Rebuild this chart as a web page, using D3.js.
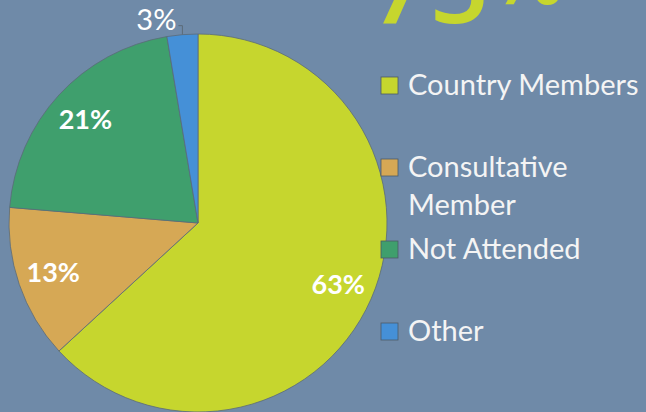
<!DOCTYPE html>
<html>
<head>
<meta charset="utf-8">
<script src="https://cdn.jsdelivr.net/npm/d3@7"></script>
<style>
  html, body { margin: 0; padding: 0; background: #6f8aa8; }
  svg { display: block; font-family: Lato, "Open Sans", sans-serif; }
</style>
</head>
<body>
<div id="chart"></div>
<script>
// attendance counts (labels round to 63/13/21/3)
const categories = [`Country Members`, `Consultative Member`, `Not Attended`, `Other`];
const counts = [24, 5, 8, 1];
const pctLabels = [`63%`, `13%`, `21%`, `3%`];
const headline = `75%`;

const width = 646;
const height = 412;
const cx = 198;
const cy = 223;
const radius = 189;

const color = d3.scaleOrdinal()
  .domain(categories)
  .range([`#c6d62e`, `#d6a855`, `#3f9f6d`, `#4590d7`]);

const svg = d3.select(`#chart`).append(`svg`)
  .attr(`width`, width)
  .attr(`height`, height);

// big headline figure, cut off by the top edge like in the slide; % sits raised
const head = svg.append(`text`)
  .attr(`x`, 370)
  .attr(`y`, 23)
  .attr(`fill`, `#c6d62e`)
  .attr(`font-family`, `"Open Sans", sans-serif`)
  .attr(`font-weight`, 600);

head.append(`tspan`)
  .attr(`font-size`, 104)
  .text(headline.slice(0, -1));

head.append(`tspan`)
  .attr(`font-size`, 88)
  .attr(`dy`, -19)
  .text(headline.slice(-1));

const pie = d3.pie().sort(null).value((d) => d.value);
const arcs = pie(categories.map((c, i) => ({ name: c, value: counts[i], label: pctLabels[i] })));

const arc = d3.arc().innerRadius(0).outerRadius(radius);
const labelArc = d3.arc().innerRadius(radius * 0.81).outerRadius(radius * 0.81);

const g = svg.append(`g`).attr(`transform`, `translate(${cx},${cy})`);

g.selectAll(`path`)
    .data(arcs)
  .enter().append(`path`)
    .attr(`d`, arc)
    .attr(`fill`, (d) => color(d.data.name))
    .attr(`stroke`, `#5b6b78`)
    .attr(`stroke-width`, 0.8);

// inside labels for the big slices
g.selectAll(`text.inside`)
    .data(arcs.filter((d) => d.data.value > 2))
  .enter().append(`text`)
    .attr(`class`, `inside`)
    .attr(`transform`, (d) => `translate(${labelArc.centroid(d)})`)
    .attr(`text-anchor`, `middle`)
    .attr(`dy`, `0.35em`)
    .attr(`fill`, `#ffffff`)
    .attr(`font-size`, 27)
    .attr(`font-weight`, `bold`)
    .text((d) => d.data.label);

// small slice gets an outside label with a leader
arcs.filter((d) => d.data.value <= 2).forEach((d) => {
  const mid = (d.startAngle + d.endAngle) / 2;
  const x0 = Math.sin(mid) * radius;
  const y0 = -Math.cos(mid) * radius;
  const yBend = y0 - 9;
  g.append(`path`)
    .attr(`d`, `M${x0},${y0}V${yBend}H${x0 - 4}`)
    .attr(`fill`, `none`)
    .attr(`stroke`, `#5b6b78`)
    .attr(`stroke-width`, 1);
  g.append(`text`)
    .attr(`x`, x0 - 6)
    .attr(`y`, yBend + 4)
    .attr(`text-anchor`, `end`)
    .attr(`fill`, `#ffffff`)
    .attr(`font-size`, 29)
    .text(d.data.label);
});

// legend
const legendRows = [85, 167, 249, 331];
const legend = svg.append(`g`).attr(`transform`, `translate(381,0)`);

const item = legend.selectAll(`g`)
    .data(categories)
  .enter().append(`g`)
    .attr(`transform`, (d, i) => `translate(0,${legendRows[i]})`);

item.append(`rect`)
  .attr(`x`, 0)
  .attr(`y`, -8)
  .attr(`width`, 17)
  .attr(`height`, 17)
  .attr(`fill`, (d) => color(d))
  .attr(`stroke`, `#4d5a66`)
  .attr(`stroke-width`, 0.8);

item.append(`text`)
  .attr(`x`, 27)
  .attr(`y`, 10)
  .attr(`fill`, `#f4f4f4`)
  .attr(`font-size`, 29)
  .each(function(d) {
    const words = d === `Consultative Member` ? [`Consultative`, `Member`] : [d];
    d3.select(this).selectAll(`tspan`)
        .data(words)
      .enter().append(`tspan`)
        .attr(`x`, 27)
        .attr(`dy`, (w, j) => j === 0 ? 0 : 38)
        .text((w) => w);
  });
</script>
</body>
</html>
